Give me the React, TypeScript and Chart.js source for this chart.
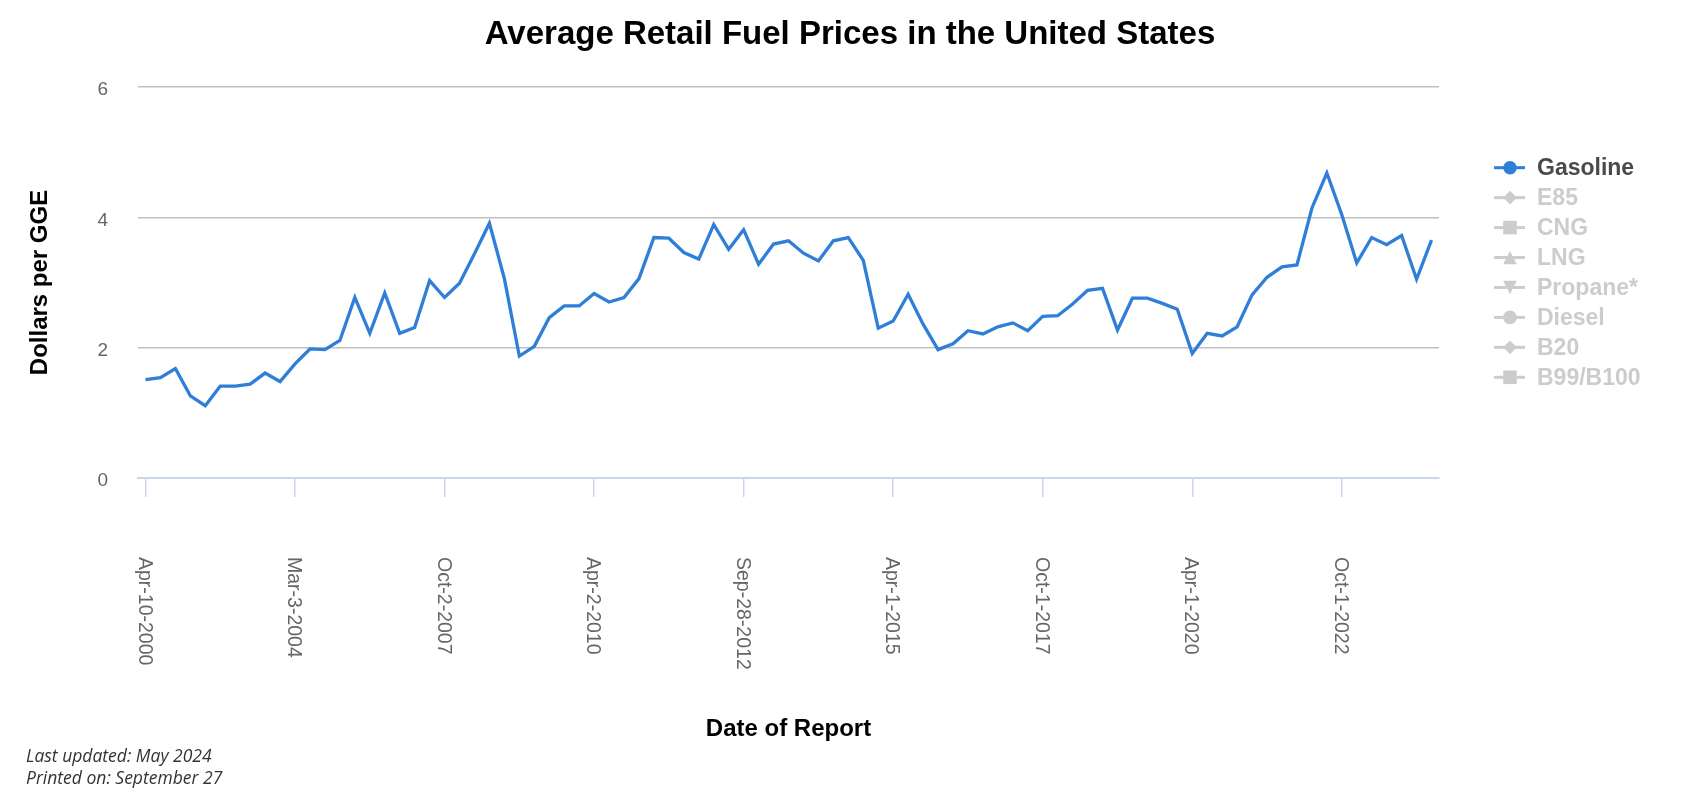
import React, { useEffect, useRef } from 'react';
import { Chart, registerables } from 'chart.js';

Chart.register(...registerables);

const reportDates = [
  'Apr-10-2000', 'Oct-2-2000', 'Jun-4-2001', 'Nov-5-2001', 'Feb-4-2002', 'Jun-3-2002', 'Sep-9-2002', 'Dec-9-2002', 'Mar-10-2003', 'Oct-6-2003',
  'Mar-3-2004', 'Jun-7-2004', 'Nov-15-2004', 'Mar-7-2005', 'Sep-6-2005', 'Dec-5-2005', 'Jul-10-2006', 'Oct-2-2006', 'Mar-5-2007', 'Jun-11-2007',
  'Oct-2-2007', 'Jan-15-2008', 'Apr-1-2008', 'Jul-1-2008', 'Oct-1-2008', 'Jan-6-2009', 'Apr-6-2009', 'Jul-1-2009', 'Oct-1-2009', 'Jan-5-2010',
  'Apr-2-2010', 'Jul-1-2010', 'Oct-1-2010', 'Jan-5-2011', 'Apr-1-2011', 'Jul-1-2011', 'Oct-3-2011', 'Jan-3-2012', 'Apr-2-2012', 'Jul-2-2012',
  'Sep-28-2012', 'Jan-4-2013', 'Apr-1-2013', 'Jul-1-2013', 'Oct-1-2013', 'Jan-3-2014', 'Apr-1-2014', 'Jul-1-2014', 'Oct-1-2014', 'Jan-2-2015',
  'Apr-1-2015', 'Jul-1-2015', 'Oct-1-2015', 'Jan-4-2016', 'Apr-1-2016', 'Jul-1-2016', 'Oct-3-2016', 'Jan-3-2017', 'Apr-3-2017', 'Jul-3-2017',
  'Oct-1-2017', 'Jan-2-2018', 'Apr-2-2018', 'Jul-2-2018', 'Oct-1-2018', 'Jan-2-2019', 'Apr-1-2019', 'Jul-1-2019', 'Oct-1-2019', 'Jan-2-2020',
  'Apr-1-2020', 'Jul-1-2020', 'Oct-1-2020', 'Jan-4-2021', 'Apr-1-2021', 'Jul-1-2021', 'Oct-1-2021', 'Jan-3-2022', 'Apr-1-2022', 'Jul-1-2022',
  'Oct-1-2022', 'Jan-3-2023', 'Apr-3-2023', 'Jul-3-2023', 'Oct-2-2023', 'Jan-2-2024', 'Apr-1-2024',
];

const gasolinePrices = [
  1.51, 1.54, 1.68, 1.26, 1.11, 1.41, 1.41, 1.44, 1.61, 1.48,
  1.75, 1.98, 1.97, 2.11, 2.77, 2.22, 2.84, 2.22, 2.31, 3.03,
  2.77, 2.99, 3.44, 3.91, 3.06, 1.87, 2.02, 2.46, 2.64, 2.64,
  2.83, 2.70, 2.77, 3.06, 3.69, 3.68, 3.46, 3.36, 3.89, 3.51,
  3.81, 3.28, 3.59, 3.64, 3.45, 3.33, 3.64, 3.69, 3.34, 2.30,
  2.41, 2.82, 2.36, 1.97, 2.06, 2.26, 2.21, 2.32, 2.38, 2.26,
  2.48, 2.49, 2.67, 2.88, 2.91, 2.27, 2.76, 2.76, 2.68, 2.59,
  1.91, 2.22, 2.18, 2.32, 2.81, 3.08, 3.24, 3.27, 4.14, 4.68,
  4.04, 3.30, 3.69, 3.58, 3.72, 3.05, 3.65,
];

const seriesNames = ['Gasoline', 'E85', 'CNG', 'LNG', 'Propane*', 'Diesel', 'B20', 'B99/B100'];
const seriesMarkers = ['circle', 'diamond', 'square', 'triangle', 'triangleDown', 'circle', 'diamond', 'square'];
const seriesVisible = [true, false, false, false, false, false, false, false];
const seriesColors = ['#2f7ed8', '#0d233a', '#8bbc21', '#910000', '#1aadce', '#492970', '#f28f43', '#77a1e5'];

const yTickValues = [0, 2, 4, 6];
const labelEvery = 10;

const FONT = '"Liberation Sans", Arial, Helvetica, sans-serif';

function drawMarker(ctx: CanvasRenderingContext2D, kind: string, cx: number, cy: number, r: number) {
  ctx.beginPath();
  if (kind === 'circle') {
    ctx.arc(cx, cy, r, 0, Math.PI * 2);
  } else if (kind === 'diamond') {
    ctx.moveTo(cx, cy - r);
    ctx.lineTo(cx + r, cy);
    ctx.lineTo(cx, cy + r);
    ctx.lineTo(cx - r, cy);
  } else if (kind === 'square') {
    ctx.rect(cx - r, cy - r, r * 2, r * 2);
  } else if (kind === 'triangle') {
    ctx.moveTo(cx, cy - r);
    ctx.lineTo(cx + r, cy + r);
    ctx.lineTo(cx - r, cy + r);
  } else if (kind === 'triangleDown') {
    ctx.moveTo(cx - r, cy - r);
    ctx.lineTo(cx + r, cy - r);
    ctx.lineTo(cx, cy + r);
  }
  ctx.closePath();
  ctx.fill();
}

const xLabelPlugin = {
  id: 'rotatedXLabels',
  afterDraw(chart: any) {
    const ctx = chart.ctx as CanvasRenderingContext2D;
    const xs = chart.scales.x;
    const labels = chart.data.labels as string[];
    ctx.save();
    ctx.font = `19.5px ${FONT}`;
    ctx.fillStyle = '#666666';
    ctx.textAlign = 'left';
    ctx.textBaseline = 'alphabetic';
    labels.forEach((lab, i) => {
      if (i % labelEvery !== 0) return;
      const x = xs.getPixelForValue(i);
      ctx.save();
      ctx.translate(x, xs.top + 79);
      ctx.rotate(Math.PI / 2);
      ctx.fillText(lab, 0, 6.8);
      ctx.restore();
    });
    ctx.restore();
  },
};

const legendPlugin = {
  id: 'sideLegend',
  afterDraw(chart: any) {
    const ctx = chart.ctx as CanvasRenderingContext2D;
    const area = chart.chartArea;
    const x0 = area.right + 55;
    const x1 = area.right + 86;
    const mx = area.right + 71;
    const tx = area.right + 98;
    const top = 167.7;
    const step = 29.94;
    ctx.save();
    chart.data.datasets.forEach((ds: any, i: number) => {
      const hidden = !!ds.hidden;
      const col = hidden ? '#cccccc' : ds.borderColor;
      const y = top + i * step;
      ctx.strokeStyle = col;
      ctx.fillStyle = col;
      ctx.lineWidth = 3;
      ctx.beginPath();
      ctx.moveTo(x0, y);
      ctx.lineTo(x1, y);
      ctx.stroke();
      drawMarker(ctx, ds.markerKind, mx, y, 6.8);
      ctx.font = `bold 23px ${FONT}`;
      ctx.textAlign = 'left';
      ctx.textBaseline = 'middle';
      ctx.fillStyle = hidden ? '#cccccc' : '#4a4a4a';
      ctx.fillText(ds.label, tx, y + 1);
    });
    ctx.restore();
  },
};

export default function App() {
  const canvasRef = useRef<HTMLCanvasElement | null>(null);

  useEffect(() => {
    const canvas = canvasRef.current;
    if (!canvas) return;
    const datasets = seriesNames.map((name, i) => ({
      label: name,
      data: i === 0 ? gasolinePrices : [],
      hidden: !seriesVisible[i],
      borderColor: seriesColors[i],
      backgroundColor: seriesColors[i],
      borderWidth: 3.3,
      pointRadius: 0,
      pointHoverRadius: 0,
      tension: 0,
      fill: false,
      markerKind: seriesMarkers[i],
    }));

    const chart = new Chart(canvas, {
      type: 'line',
      data: { labels: reportDates, datasets: datasets as any },
      plugins: [xLabelPlugin, legendPlugin],
      options: {
        responsive: false,
        animation: false,
        devicePixelRatio: 1,
        layout: { padding: { left: 0, right: 261, top: 87, bottom: 0 } },
        plugins: {
          legend: { display: false },
          tooltip: { enabled: false },
          title: { display: false },
        },
        scales: {
          x: {
            type: 'category',
            offset: true,
            afterFit(scale: any) {
              scale.height = 322;
            },
            ticks: { display: false, autoSkip: false },
            grid: {
              drawOnChartArea: false,
              drawTicks: true,
              tickLength: 19,
              offset: false,
              lineWidth: 1.5,
              color: (c: any) => (c.index % labelEvery === 0 ? '#ccd6eb' : 'rgba(0,0,0,0)'),
            },
            border: { display: true, color: '#ccd6eb', width: 2 },
            title: {
              display: true,
              text: 'Date of Report',
              color: '#000000',
              font: { family: FONT, size: 24, weight: 'bold' },
              padding: { top: 0, bottom: 56.6 },
            },
          },
          y: {
            min: 0,
            max: 6,
            afterFit(scale: any) {
              scale.width = 138;
            },
            afterBuildTicks(scale: any) {
              scale.ticks = yTickValues.map((v) => ({ value: v }));
            },
            ticks: {
              color: '#666666',
              font: { family: FONT, size: 19 },
              padding: 30,
              labelOffset: 3,
            },
            grid: {
              drawTicks: false,
              lineWidth: 1.5,
              color: (c: any) => (c.tick && c.tick.value === 0 ? 'rgba(0,0,0,0)' : '#c0c0c0'),
            },
            border: { display: false },
            title: {
              display: true,
              text: 'Dollars per GGE',
              color: '#000000',
              font: { family: FONT, size: 24, weight: 'bold' },
              padding: { top: 25.6, bottom: 0 },
            },
          },
        },
      },
    });
    return () => chart.destroy();
  }, []);

  const noteStyle: React.CSSProperties = {
    position: 'absolute',
    left: 26,
    fontFamily: '"Open Sans", sans-serif',
    fontStyle: 'italic',
    fontSize: 17.5,
    lineHeight: '21.5px',
    color: '#333333',
    whiteSpace: 'nowrap',
  };

  return (
    <div style={{ position: 'absolute', left: 0, top: 0, width: 1700, height: 800, background: '#ffffff', overflow: 'hidden' }}>
      <canvas ref={canvasRef} width={1700} height={800} style={{ display: 'block', width: 1700, height: 800 }} />
      <div
        style={{
          position: 'absolute',
          left: 0,
          top: 12.8,
          width: 1700,
          textAlign: 'center',
          fontFamily: FONT,
          fontWeight: 'bold',
          fontSize: 33,
          lineHeight: '39.6px',
          color: '#000000',
          whiteSpace: 'nowrap',
        }}
      >
        Average Retail Fuel Prices in the United States
      </div>
      <div style={{ ...noteStyle, top: 745.2 }}>Last updated: May 2024</div>
      <div style={{ ...noteStyle, top: 766.7 }}>Printed on: September 27</div>
    </div>
  );
}
